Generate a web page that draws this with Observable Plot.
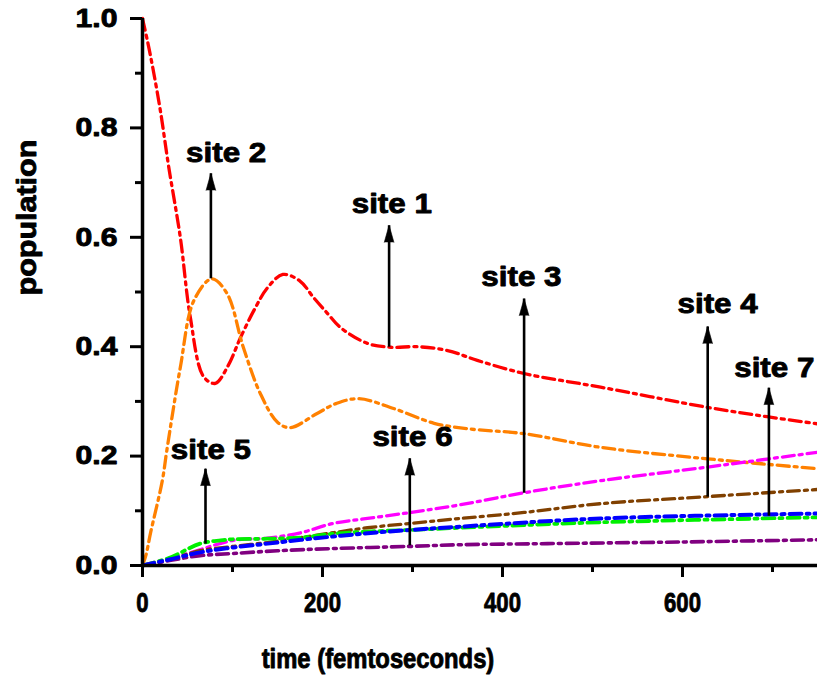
<!DOCTYPE html>
<html>
<head>
<meta charset="utf-8">
<script src="https://cdn.jsdelivr.net/npm/d3@7"></script>
<script src="https://cdn.jsdelivr.net/npm/@observablehq/plot@0.6"></script>
<style>
  html, body { margin: 0; padding: 0; background: #fff; }
  #chart svg { display: block; font-family: "Liberation Sans", Arial, sans-serif; font-weight: bold; }
</style>
</head>
<body>
<div id="chart"></div>
<script>
// ---- data ----
const site1T = [0, 6, 12, 20, 29, 42, 53, 68, 81, 95, 109, 125, 139, 156, 175, 190, 206, 220, 250, 276, 305, 339, 372, 424, 509, 628, 694, 750];
const site1V = [1.0, 0.955, 0.905, 0.83, 0.73, 0.60, 0.455, 0.345, 0.333, 0.365, 0.417, 0.47, 0.508, 0.532, 0.52, 0.49, 0.46, 0.435, 0.406, 0.399, 0.40, 0.393, 0.375, 0.351, 0.326, 0.289, 0.272, 0.259];

const site2T = [0, 4, 9, 22, 27, 42, 57, 77, 94, 112, 131, 150, 164, 194, 215, 240, 279, 324, 361, 424, 509, 628, 750];
const site2V = [0, 0.02, 0.06, 0.155, 0.21, 0.362, 0.484, 0.524, 0.497, 0.399, 0.314, 0.262, 0.252, 0.278, 0.296, 0.305, 0.287, 0.26, 0.25, 0.241, 0.216, 0.195, 0.177];

const site3T = [0, 50, 101, 139, 176, 212, 250, 298, 353, 424, 509, 628, 750];
const site3V = [0, 0.022, 0.046, 0.050, 0.060, 0.077, 0.086, 0.097, 0.111, 0.133, 0.155, 0.18, 0.207];

const site4T = [0, 30, 64, 101, 139, 176, 212, 250, 298, 353, 424, 509, 628, 750];
const site4V = [0, 0.011, 0.027, 0.035, 0.042, 0.051, 0.060, 0.069, 0.077, 0.086, 0.097, 0.113, 0.126, 0.139];

const site5T = [0, 30, 64, 87, 101, 139, 176, 212, 250, 298, 353, 509, 750];
const site5V = [0, 0.014, 0.040, 0.046, 0.048, 0.049, 0.051, 0.058, 0.062, 0.065, 0.069, 0.079, 0.088];

const site6T = [0, 30, 64, 101, 150, 212, 298, 353, 450, 600, 750];
const site6V = [0, 0.009, 0.018, 0.022, 0.027, 0.031, 0.035, 0.038, 0.040, 0.043, 0.047];

const site7T = [0, 30, 64, 101, 139, 176, 212, 250, 298, 353, 509, 750];
const site7V = [0, 0.011, 0.024, 0.033, 0.040, 0.047, 0.053, 0.059, 0.065, 0.071, 0.086, 0.095];

const seriesNames = ["site 1", "site 2", "site 3", "site 4", "site 5", "site 6", "site 7"];
const seriesColors = ["#ff0000", "#ff8000", "#ff00ff", "#804000", "#00f000", "#800080", "#0000ff"];
const seriesWidths = [3.3, 3.3, 3.3, 3.3, 3.8, 3.6, 4];

// annotation arrows: x position, base value, tip value
const arrowT    = [274, 76, 424, 628, 70, 297, 696];
const arrowBase = [0.40, 0.525, 0.133, 0.126, 0.04, 0.037, 0.091];
const arrowTip  = [0.622, 0.717, 0.488, 0.437, 0.177, 0.196, 0.325];
// annotation labels: center x, baseline value
const labelT = [277, 93, 421, 639, 76, 300, 702];
const labelV = [0.645, 0.737, 0.51, 0.461, 0.194, 0.219, 0.344];

const xMajor = [0, 200, 400, 600];
const xMinor = [100, 300, 500, 700];
const yMajor = [0, 0.2, 0.4, 0.6, 0.8, 1.0];
const yMinor = [0.1, 0.3, 0.5, 0.7, 0.9];

const xTitle = "time (femtoseconds)";
const yTitle = "population";

// ---- build tables ----
const seriesT = [site1T, site2T, site3T, site4T, site5T, site6T, site7T];
const seriesV = [site1V, site2V, site3V, site4V, site5V, site6V, site7V];
const rows = [];
seriesNames.forEach((name, i) => {
  seriesT[i].forEach((t, j) => rows.push({site: name, t, v: seriesV[i][j], idx: i}));
});
const arrows = seriesNames.map((name, i) => ({
  name, t: arrowT[i], base: arrowBase[i], tip: arrowTip[i], lt: labelT[i], lv: labelV[i]
}));

const lineMarks = seriesNames.map((name, i) =>
  Plot.line(rows.filter(d => d.idx === i), {
    x: "t", y: "v",
    stroke: seriesColors[i],
    strokeWidth: seriesWidths[i],
    strokeDasharray: "12,5,3,5",
    curve: "catmull-rom"
  })
);

const chart = Plot.plot({
  width: 817,
  height: 677,
  marginLeft: 142,
  marginRight: 0,
  marginTop: 18,
  marginBottom: 112,
  x: {domain: [0, 750]},
  y: {domain: [0, 1]},
  marks: [
    ...lineMarks,
    // axis lines
    Plot.ruleX([0], {stroke: "black", strokeWidth: 3.5}),
    Plot.ruleY([0], {stroke: "black", strokeWidth: 3.5}),
    // x axis
    Plot.axisX(xMajor, {tickSize: 12, tickPadding: 15, strokeWidth: 3, fontSize: 28, fontWeight: "bold", tickFormat: d => String(d), label: null}),
    Plot.axisX(xMinor, {tickSize: 7, strokeWidth: 3, tickFormat: () => "", label: null}),
    // y axis
    Plot.axisY(yMajor, {tickSize: 12, tickPadding: 13, strokeWidth: 3, fontSize: 26, fontWeight: "bold", tickFormat: d => d.toFixed(1), label: null}),
    Plot.axisY(yMinor, {tickSize: 7, strokeWidth: 3, tickFormat: () => "", label: null}),
    // titles
    Plot.text([xTitle], {frameAnchor: "bottom", text: d => d, dx: -102, dy: 94, lineAnchor: "middle", fontSize: 28, fontWeight: "bold", fill: "black"}),
    Plot.text([yTitle], {frameAnchor: "left", text: d => d, rotate: -90, dx: -115.5, dy: 3.5, lineAnchor: "middle", fontSize: 28, fontWeight: "bold", fill: "black"}),
    // annotation arrows
    Plot.link(arrows, {x1: "t", x2: "t", y1: "base", y2: "tip", stroke: "black", strokeWidth: 2.6}),
    Plot.vector(arrows, {x: "t", y: "tip", shape: "spike", anchor: "end", length: 17, r: 4.8, rotate: 0, fill: "black", stroke: "black", strokeWidth: 0.6}),
    Plot.text(arrows, {x: "lt", y: "lv", text: "name", lineAnchor: "middle", dy: -9, fontSize: 28, fontWeight: "bold", fill: "black"})
  ]
});

document.getElementById("chart").appendChild(chart);

// horizontal stretch/condense of glyphs to match the reference's text widths
function stretch(el, s) {
  const t = el.getAttribute("transform");
  if (t) {
    el.setAttribute("transform", t + ` scale(${s},1)`);
  } else {
    const x = +el.getAttribute("x") || 0, y = +el.getAttribute("y") || 0;
    el.setAttribute("transform", `translate(${x},${y}) scale(${s},1) translate(${-x},${-y})`);
  }
}
d3.select(chart).selectAll("text").each(function() {
  const s = this.textContent;
  let k = null;
  if (/^site/.test(s)) k = 1.12;
  else if (s === xTitle) k = 0.85;
  else if (s === yTitle) k = 1.09;
  else if (/^\d\.\d$/.test(s)) k = 1.16;
  else if (/^\d+$/.test(s)) k = 0.79;
  if (k !== null) {
    stretch(this, k);
    d3.select(this).style("stroke", "black").style("stroke-width", "0.9px").style("stroke-linejoin", "round");
  }
});
</script>
</body>
</html>
